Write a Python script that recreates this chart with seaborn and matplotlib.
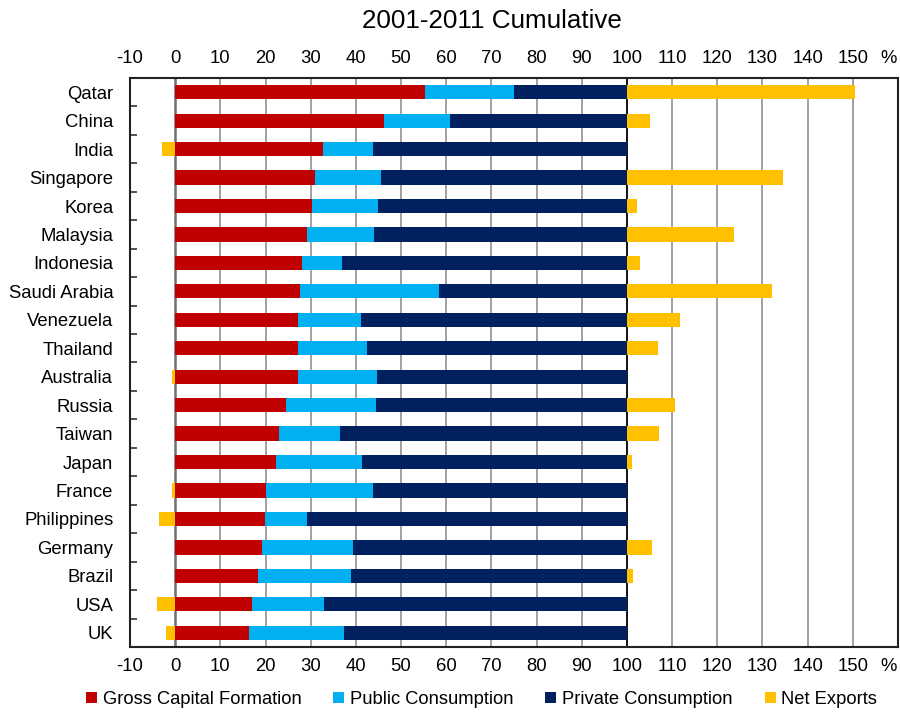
import numpy as np
import pandas as pd
import matplotlib
matplotlib.use("Agg")
import matplotlib.pyplot as plt
from matplotlib.patches import Patch
from matplotlib.ticker import FixedLocator
import seaborn as sns

countries = ["Qatar", "China", "India", "Singapore", "Korea", "Malaysia", "Indonesia",
             "Saudi Arabia", "Venezuela", "Thailand", "Australia", "Russia", "Taiwan",
             "Japan", "France", "Philippines", "Germany", "Brazil", "USA", "UK"]
gross_capital = [55.3, 46.3, 32.7, 31.0, 30.2, 29.2, 28.1, 27.7, 27.2, 27.2, 27.2, 24.6,
                 22.9, 22.4, 20.0, 19.8, 19.3, 18.4, 17.1, 16.4]
public_cons = [19.6, 14.6, 11.1, 14.5, 14.7, 14.8, 8.8, 30.6, 13.9, 15.3, 17.5, 19.9,
               13.6, 19.0, 23.7, 9.4, 20.1, 20.6, 15.8, 21.0]
private_cons = [25.1, 39.1, 56.2, 54.5, 55.1, 56.0, 63.1, 41.7, 58.9, 57.5, 55.3, 55.5,
                63.5, 58.6, 56.3, 70.8, 60.6, 61.0, 67.1, 62.6]
net_exports = [50.4, 5.0, -3.0, 34.5, 2.3, 23.8, 2.9, 32.2, 11.8, 6.9, -0.7, 10.6,
               7.0, 1.2, -0.6, -3.5, 5.6, 1.3, -4.0, -2.0]
x_ticks = [-10, 0, 10, 20, 30, 40, 50, 60, 70, 80, 90, 100, 110, 120, 130, 140, 150]
x_tick_labels = ["-10", "0", "10", "20", "30", "40", "50", "60", "70", "80", "90",
                 "100", "110", "120", "130", "140", "150"]
unit_label = "%"
series_names = ["Gross Capital Formation", "Public Consumption", "Private Consumption", "Net Exports"]
colors = ["#C00000", "#00B0F0", "#002060", "#FFC000"]

df = pd.DataFrame({"country": countries, "gcf": gross_capital, "pub": public_cons,
                   "priv": private_cons, "nx": net_exports})
df["end_pub"] = df["gcf"] + df["pub"]
df["end_priv"] = df["end_pub"] + df["priv"]
# Net exports drawn beyond the domestic-demand total when positive, left of zero when negative
df["nx_plot"] = np.where(df["nx"] > 0, df["end_priv"] + df["nx"], df["nx"])

sns.set_theme(style="white")
plt.rcParams["font.family"] = ["Liberation Sans", "DejaVu Sans"]
plt.rcParams["text.color"] = "black"
plt.rcParams["xtick.color"] = "black"
plt.rcParams["ytick.color"] = "black"

fig = plt.figure(figsize=(9, 7.13), dpi=100)
ax = fig.add_axes([0.1444, 0.0926, 0.8534, 0.798])

bw = 0.5
sns.barplot(data=df, y="country", x="nx_plot", color=colors[3], orient="h",
            width=bw, ax=ax, saturation=1, zorder=3)
sns.barplot(data=df, y="country", x="end_priv", color=colors[2], orient="h",
            width=bw, ax=ax, saturation=1, zorder=3)
sns.barplot(data=df, y="country", x="end_pub", color=colors[1], orient="h",
            width=bw, ax=ax, saturation=1, zorder=3)
sns.barplot(data=df, y="country", x="gcf", color=colors[0], orient="h",
            width=bw, ax=ax, saturation=1, zorder=3)
for p in ax.patches:
    p.set_linewidth(0)

ax.set_xlim(-10, 160)
ax.set_ylim(len(countries) - 0.5, -0.5)
ax.set_xlabel("")
ax.set_ylabel("")

ax.set_xticks(x_ticks + [158])
ax.set_xticklabels(x_tick_labels + [unit_label])
ax.tick_params(axis="x", which="both", length=0, labelsize=13.3, pad=8,
               top=True, labeltop=True, bottom=True, labelbottom=True, labelcolor="black")
ax.tick_params(axis="y", which="major", length=0, labelsize=13.3, pad=12, labelcolor="black")
ax.yaxis.set_minor_locator(FixedLocator(np.arange(-0.5, len(countries), 1.0)))
ax.tick_params(axis="y", which="minor", direction="in", length=5, width=1.2,
               color="#333333", left=True)

for xv in x_ticks:
    if xv in (0, 100):
        continue
    ax.axvline(xv, color="#9a9a9a", lw=1.3, zorder=1)
ax.axvline(0, color="#707070", lw=1.8, zorder=1)
ax.axvline(100, color="black", lw=1.3, zorder=1)

for s in ax.spines.values():
    s.set_visible(True)
    s.set_color("#222222")
    s.set_linewidth(1.5)

fig.suptitle("2001-2011 Cumulative", x=0.547, y=0.988, fontsize=18.7, va="top", color="black")

handles = [Patch(facecolor=c, edgecolor="none") for c in colors]
fig.legend(handles, series_names, loc="center", bbox_to_anchor=(0.535, 0.019), ncol=4,
           frameon=False, fontsize=13.2, handlelength=0.6, handleheight=0.6,
           handletextpad=0.3, columnspacing=1.75, borderaxespad=0, labelcolor="black")

fig.savefig("out.png", dpi=100)
